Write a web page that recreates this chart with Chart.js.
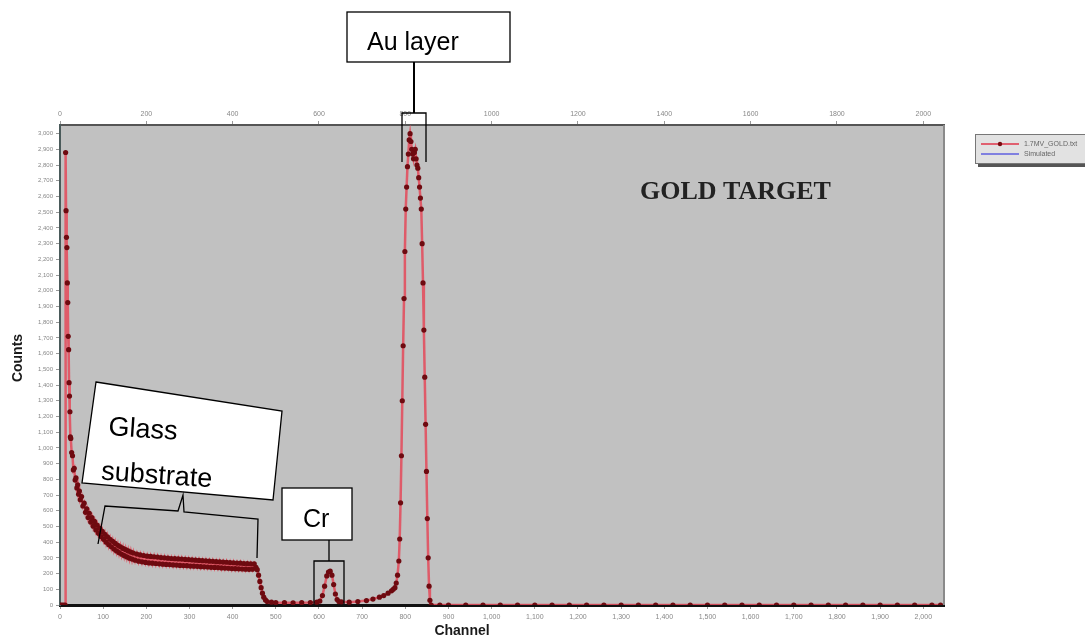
<!DOCTYPE html>
<html><head><meta charset="utf-8">
<style>html,body{margin:0;padding:0;background:#fff;} canvas{display:block;}</style>
<script src="https://cdn.jsdelivr.net/npm/chart.js@4.4.0/dist/chart.umd.min.js"></script>
</head><body>
<canvas id="c" width="1085" height="643"></canvas>
<script>
// ---- data ----
const channels = [0,4,8,12,13,14,15,16,17,18,19,20,21,22,23,24,
25,27,29,31,33,35,37,39,41,43,45,47,50,53,56,59,62,65,68,71,74,77,80,83,86,89,92,95,98,101,104,107,110,113,116,119,122,125,128,131,134,137,140,143,146,149,152,155,158,161,164,167,170,174,178,182,186,190,194,198,202,206,210,214,218,222,226,230,234,238,242,246,250,254,258,262,266,270,274,278,282,286,290,294,298,302,306,310,314,318,322,326,330,334,338,342,346,350,354,358,362,366,370,374,378,382,386,390,394,398,402,406,410,414,418,422,426,430,434,438,442,446,450,454,457,460,463,466,469,472,476,480,
490,500,520,540,560,580,595,602,608,613,618,622,626,630,634,638,642,646,652,670,690,710,725,740,750,760,768,772,776,779,782,785,787,789,791,793,795,797,799,801,803,805,807,809,811,813,815,817,819,821,823,825,827,829,831,833,835,837,839,841,843,845,847,849,851,853,855,857,860,
880,900,940,980,1020,1060,1100,1140,1180,1220,1260,1300,1340,1380,1420,1460,1500,1540,1580,1620,1660,1700,1740,1780,1820,1860,1900,1940,1980,2020,2040];
const counts = [0,0,0,0,2880,2510,2340,2275,2050,1925,1710,1625,1415,1330,1230,1070,
1060,970,950,860,870,795,810,745,765,705,725,670,690,630,648,590,612,557,584,528,556,502,532,478,508,456,488,436,468,418,450,400,434,384,418,370,405,356,392,344,380,333,370,323,360,314,352,306,344,298,337,292,331,285,324,279,319,275,315,271,311,268,309,266,307,264,305,262,302,260,300,258,298,257,296,255,295,254,293,252,292,251,290,250,289,248,287,247,285,246,284,244,282,243,281,242,279,240,278,239,276,238,275,236,273,235,272,234,270,232,269,231,267,230,266,229,264,228,263,227,262,228,262,240,225,190,150,110,75,50,32,22,
18,15,15,14,15,16,18,25,60,120,185,210,215,190,130,70,35,22,20,18,22,28,38,50,60,75,90,100,110,140,190,280,420,650,950,1300,1650,1950,2250,2520,2660,2790,2870,2960,3000,2950,2900,2870,2840,2880,2900,2840,2800,2780,2720,2660,2590,2520,2300,2050,1750,1450,1150,850,550,300,120,30,0,
0,0,0,0,0,0,0,0,0,0,0,0,0,0,0,0,0,0,0,0,0,0,0,0,0,0,0,0,0,0,0];
const bottomTickStep = 100;
const topTickStep = 200;
const yTickStep = 100;
const xMax = 2048;
const yMax = 3055;
const legendLabels = ['1.7MV_GOLD.txt', 'Simulated'];
const chartLabel = 'GOLD TARGET';

const points = channels.map((c, i) => ({x: c, y: counts[i]}));

const deco = {
  id: 'deco',
  beforeDraw(chart) {
    const {ctx, chartArea: a} = chart;
    ctx.save();
    ctx.fillStyle = '#c1c1c1';
    ctx.fillRect(a.left, a.top, a.right - a.left, a.bottom - a.top);
    ctx.restore();
  },
  afterDraw(chart) {
    const {ctx, chartArea: a} = chart;
    ctx.save();
    // right border
    ctx.strokeStyle = '#8a8a8a'; ctx.lineWidth = 2;
    ctx.beginPath(); ctx.moveTo(a.right, a.top); ctx.lineTo(a.right, a.bottom); ctx.stroke();

    // axis titles
    ctx.fillStyle = '#1a1a1a';
    ctx.font = 'bold 14px "Liberation Sans", Arial, sans-serif';
    ctx.textAlign = 'center'; ctx.textBaseline = 'middle';
    ctx.fillText('Channel', 462, 631);
    ctx.save();
    ctx.translate(18, 358); ctx.rotate(-Math.PI / 2);
    ctx.fillText('Counts', 0, 0);
    ctx.restore();

    // GOLD TARGET
    ctx.font = 'bold 26px "Liberation Serif", "Times New Roman", serif';
    ctx.textAlign = 'left'; ctx.textBaseline = 'alphabetic';
    ctx.fillStyle = '#222';
    ctx.fillText(chartLabel, 640, 199);

    // legend
    ctx.fillStyle = '#555';
    ctx.fillRect(978, 137, 120, 30);
    ctx.fillStyle = '#e2e2e2';
    ctx.fillRect(975, 134, 120, 29);
    ctx.strokeStyle = '#777'; ctx.lineWidth = 1;
    ctx.strokeRect(975.5, 134.5, 120, 29);
    ctx.strokeStyle = '#e06070'; ctx.lineWidth = 2;
    ctx.beginPath(); ctx.moveTo(981, 144); ctx.lineTo(1019, 144); ctx.stroke();
    ctx.fillStyle = '#7a0a10';
    ctx.beginPath(); ctx.arc(1000, 144, 2.2, 0, Math.PI * 2); ctx.fill();
    ctx.strokeStyle = '#8080e0'; ctx.lineWidth = 2;
    ctx.beginPath(); ctx.moveTo(981, 154); ctx.lineTo(1019, 154); ctx.stroke();
    ctx.fillStyle = '#666';
    ctx.font = '7px "Liberation Sans", Arial, sans-serif';
    ctx.textBaseline = 'middle';
    ctx.fillText(legendLabels[0], 1024, 144);
    ctx.fillText(legendLabels[1], 1024, 154);

    // annotations
    ctx.strokeStyle = '#000'; ctx.lineWidth = 1.3;
    ctx.fillStyle = '#fff';
    // Au layer
    ctx.fillRect(347, 12, 163, 50);
    ctx.strokeRect(347, 12, 163, 50);
    ctx.fillStyle = '#000';
    ctx.font = '25px "Liberation Sans", Arial, sans-serif';
    ctx.textBaseline = 'alphabetic';
    ctx.fillText('Au layer', 367, 50);
    ctx.lineWidth = 2;
    ctx.beginPath(); ctx.moveTo(414, 62); ctx.lineTo(414, 113); ctx.stroke();
    ctx.lineWidth = 1.3;
    ctx.beginPath(); ctx.moveTo(402, 162); ctx.lineTo(402, 113); ctx.lineTo(426, 113); ctx.lineTo(426, 162); ctx.stroke();

    // Glass substrate
    ctx.save();
    ctx.beginPath();
    ctx.moveTo(96, 382); ctx.lineTo(282, 411); ctx.lineTo(273, 500); ctx.lineTo(82, 483); ctx.closePath();
    ctx.fillStyle = '#fff'; ctx.fill(); ctx.stroke();
    ctx.translate(108, 435); ctx.rotate(4 * Math.PI / 180);
    ctx.fillStyle = '#000';
    ctx.font = '27px "Liberation Sans", Arial, sans-serif';
    ctx.fillText('Glass', 0, 0);
    ctx.fillText('substrate', -4, 45);
    ctx.restore();
    ctx.beginPath();
    ctx.moveTo(98, 544); ctx.lineTo(105, 506); ctx.lineTo(178, 511); ctx.lineTo(183, 495);
    ctx.lineTo(184, 512); ctx.lineTo(258, 519); ctx.lineTo(257, 558); ctx.stroke();

    // Cr
    ctx.fillStyle = '#fff';
    ctx.fillRect(282, 488, 70, 52);
    ctx.strokeRect(282, 488, 70, 52);
    ctx.fillStyle = '#000';
    ctx.font = '25px "Liberation Sans", Arial, sans-serif';
    ctx.fillText('Cr', 303, 527);
    ctx.beginPath(); ctx.moveTo(329, 540); ctx.lineTo(329, 561); ctx.stroke();
    ctx.beginPath(); ctx.moveTo(314, 604); ctx.lineTo(314, 561); ctx.lineTo(344, 561); ctx.lineTo(344, 604); ctx.stroke();
    ctx.restore();
  }
};

const tickFont = {family: '"Liberation Sans", Arial, sans-serif', size: 7};
new Chart(document.getElementById('c'), {
  type: 'scatter',
  data: {
    datasets: [{
      label: legendLabels[0],
      data: points,
      showLine: true,
      borderColor: 'rgba(226,80,95,0.9)',
      borderWidth: 2.5,
      backgroundColor: '#6e0a10',
      pointRadius: 2.6,
      pointBorderWidth: 0,
      tension: 0
    }]
  },
  options: {
    responsive: false,
    animation: false,
    devicePixelRatio: 1,
    layout: {padding: {top: 105, right: 141, left: 0, bottom: 0}},
    plugins: {legend: {display: false}, tooltip: {enabled: false}},
    scales: {
      x: {
        type: 'linear', position: 'bottom', min: 0, max: xMax,
        ticks: {stepSize: bottomTickStep, includeBounds: false, autoSkip: false, maxRotation: 0,
          font: tickFont, color: '#888', padding: 4,
          callback: v => v.toLocaleString('en-US')},
        grid: {drawOnChartArea: false, tickLength: 4, tickColor: '#999'},
        border: {color: '#111', width: 3},
        afterFit: s => { s.height = 38; }
      },
      x2: {
        type: 'linear', axis: 'x', position: 'top', min: 0, max: xMax,
        ticks: {stepSize: topTickStep, includeBounds: false, autoSkip: false, maxRotation: 0,
          font: tickFont, color: '#888', padding: 3,
          callback: v => String(v)},
        grid: {drawOnChartArea: false, tickLength: 4, tickColor: '#999'},
        border: {color: '#555', width: 2},
        afterFit: s => { s.height = 20; }
      },
      y: {
        type: 'linear', position: 'left', min: 0, max: yMax,
        ticks: {stepSize: yTickStep, includeBounds: false, autoSkip: false,
          font: {family: '"Liberation Sans", Arial, sans-serif', size: 6}, color: '#888', padding: 3,
          callback: v => v.toLocaleString('en-US')},
        grid: {drawOnChartArea: false, tickLength: 4, tickColor: '#999'},
        border: {color: '#4a5a5a', width: 2},
        afterFit: s => { s.width = 60; }
      }
    }
  },
  plugins: [deco]
});
</script>
</body></html>
